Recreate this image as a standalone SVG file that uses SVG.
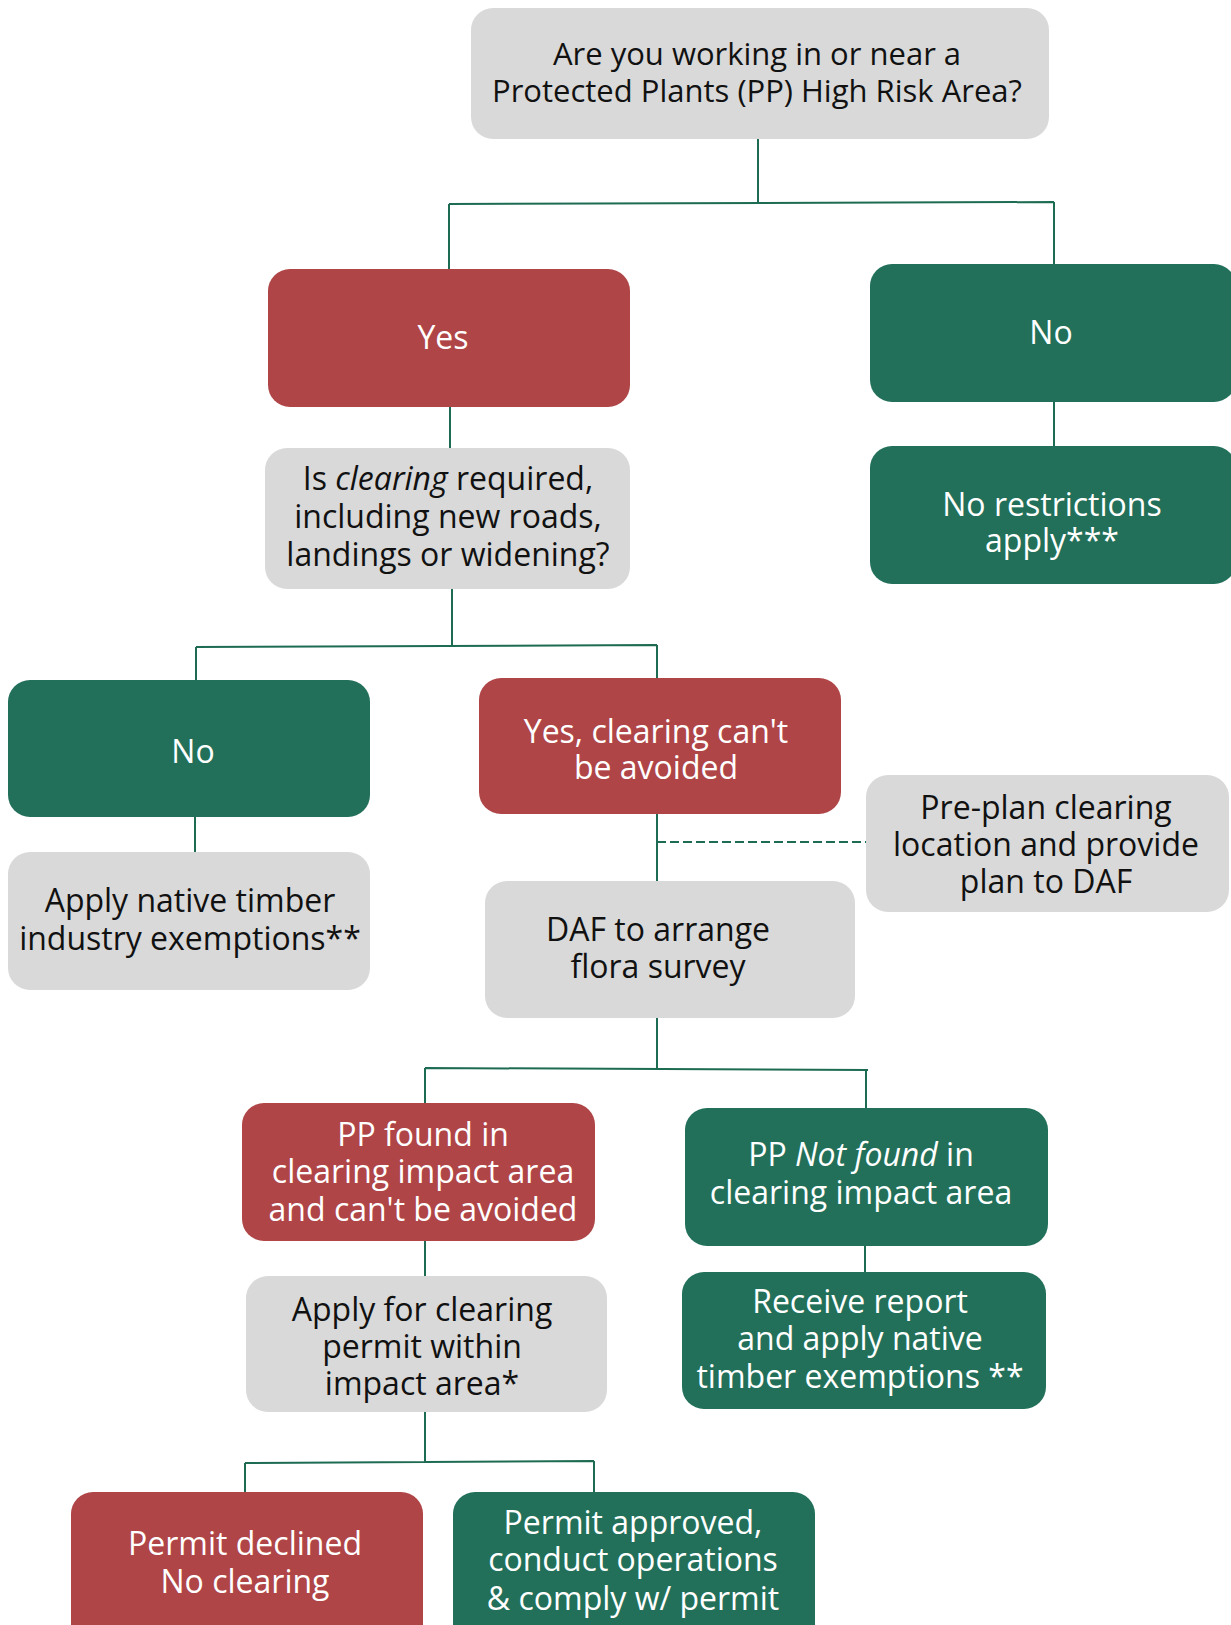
<svg xmlns="http://www.w3.org/2000/svg" width="1231" height="1625" viewBox="0 0 1231 1625">
<style>
.gray{fill:#d9d9d9}
.red{fill:#af4547}
.green{fill:#22705a}
text{font-family:"Open Sans","Noto Sans","Liberation Sans",sans-serif;font-size:32px;text-anchor:middle}
.top{font-size:31px}
.dk{fill:#111111}
.wt{fill:#ffffff}
.c{stroke:#1d6b52;stroke-width:2;fill:none}
.d{stroke:#1d6b52;stroke-width:2;fill:none;stroke-dasharray:9,4}
</style>
<rect width="1231" height="1625" fill="#ffffff"/>
<g id="connectors">
<path class="c" d="M758,139 V203 M449,204 L1054,202 M449,204 V269 M1054,202 V264"/>
<path class="c" d="M450,407 V448"/>
<path class="c" d="M1054,402 V446"/>
<path class="c" d="M452,589 V646 M196,647 L657,645 M196,647 V680 M657,645 V678"/>
<path class="c" d="M195,817 V852"/>
<path class="c" d="M657,813 V882"/>
<path class="d" d="M657,842 H866"/>
<path class="c" d="M657,1018 V1068 M425,1068 L868,1070 M425,1068 V1103 M866,1070 V1108"/>
<path class="c" d="M425,1241 V1276"/>
<path class="c" d="M865,1246 V1272"/>
<path class="c" d="M425,1411 V1462 M245,1463 L594,1461 M245,1463 V1492 M594,1461 V1492"/>
</g>
<g id="n-start">
<rect class="gray" x="471" y="8" width="578" height="131" rx="22"/>
<text class="dk top" x="757" y="65">Are you working in or near a</text>
<text class="dk top" x="757" y="102">Protected Plants (PP) High Risk Area?</text>
</g>
<g id="n-yes">
<rect class="red" x="268" y="269" width="362" height="138" rx="22"/>
<text class="wt" x="443" y="349">Yes</text>
</g>
<g id="n-no">
<rect class="green" x="870" y="264" width="366" height="138" rx="22"/>
<text class="wt" x="1051" y="344">No</text>
</g>
<g id="n-norestrict">
<rect class="green" x="870" y="446" width="366" height="138" rx="22"/>
<text class="wt" x="1052" y="516">No restrictions</text>
<text class="wt" x="1052" y="552">apply***</text>
</g>
<g id="n-clearing">
<rect class="gray" x="265" y="448" width="365" height="141" rx="22"/>
<text class="dk" x="448" y="490">Is <tspan font-style="italic">clearing</tspan> required,</text>
<text class="dk" x="448" y="528">including new roads,</text>
<text class="dk" x="448" y="566">landings or widening?</text>
</g>
<g id="n-no2">
<rect class="green" x="8" y="680" width="362" height="137" rx="22"/>
<text class="wt" x="193" y="763">No</text>
</g>
<g id="n-apply-native">
<rect class="gray" x="8" y="852" width="362" height="138" rx="22"/>
<text class="dk" x="190" y="912">Apply native timber</text>
<text class="dk" x="190" y="950">industry exemptions**</text>
</g>
<g id="n-yes-clear">
<rect class="red" x="479" y="678" width="362" height="136" rx="22"/>
<text class="wt" x="656" y="743">Yes, clearing can't</text>
<text class="wt" x="656" y="779">be avoided</text>
</g>
<g id="n-preplan">
<rect class="gray" x="866" y="775" width="363" height="137" rx="22"/>
<text class="dk" x="1046" y="819">Pre-plan clearing</text>
<text class="dk" x="1046" y="856">location and provide</text>
<text class="dk" x="1046" y="893">plan to DAF</text>
</g>
<g id="n-daf">
<rect class="gray" x="485" y="881" width="370" height="137" rx="22"/>
<text class="dk" x="658" y="941">DAF to arrange</text>
<text class="dk" x="658" y="978">flora survey</text>
</g>
<g id="n-found">
<rect class="red" x="242" y="1103" width="353" height="138" rx="22"/>
<text class="wt" x="423" y="1146">PP found in</text>
<text class="wt" x="423" y="1183">clearing impact area</text>
<text class="wt" x="423" y="1221">and can't be avoided</text>
</g>
<g id="n-notfound">
<rect class="green" x="685" y="1108" width="363" height="138" rx="22"/>
<text class="wt" x="861" y="1166">PP <tspan font-style="italic">Not found</tspan> in</text>
<text class="wt" x="861" y="1204">clearing impact area</text>
</g>
<g id="n-permit-apply">
<rect class="gray" x="246" y="1276" width="361" height="136" rx="22"/>
<text class="dk" x="422" y="1321">Apply for clearing</text>
<text class="dk" x="422" y="1358">permit within</text>
<text class="dk" x="422" y="1395">impact area*</text>
</g>
<g id="n-receive">
<rect class="green" x="682" y="1272" width="364" height="137" rx="22"/>
<text class="wt" x="860" y="1313">Receive report</text>
<text class="wt" x="860" y="1350">and apply native</text>
<text class="wt" x="860" y="1388">timber exemptions **</text>
</g>
<g id="n-declined">
<rect class="red" x="71" y="1492" width="352" height="160" rx="22"/>
<text class="wt" x="245" y="1555">Permit declined</text>
<text class="wt" x="245" y="1593">No clearing</text>
</g>
<g id="n-approved">
<rect class="green" x="453" y="1492" width="362" height="160" rx="22"/>
<text class="wt" x="633" y="1534">Permit approved,</text>
<text class="wt" x="633" y="1571">conduct operations</text>
<text class="wt" x="633" y="1610">&amp; comply w/ permit</text>
</g>
</svg>
